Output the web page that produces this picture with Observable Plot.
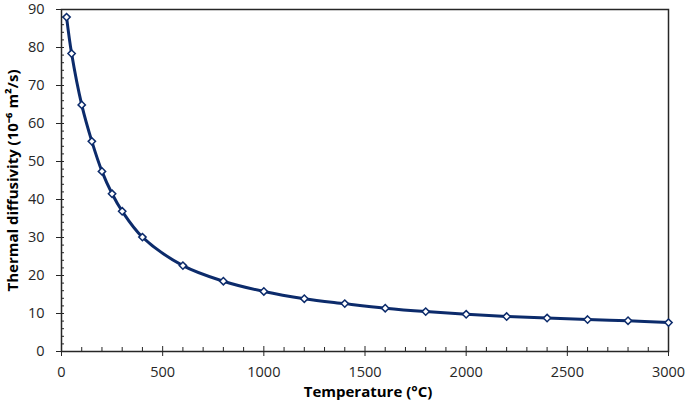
<!DOCTYPE html>
<html>
<head>
<meta charset="utf-8">
<script src="https://cdn.jsdelivr.net/npm/d3@7"></script>
<script src="https://cdn.jsdelivr.net/npm/@observablehq/plot@0.6"></script>
<style>
  html, body { margin: 0; padding: 0; background: white; }
</style>
</head>
<body>
<div id="chart"></div>
<script>
const temperatures = [25, 50, 100, 150, 200, 250, 300, 400, 600, 800, 1000, 1200, 1400, 1600, 1800, 2000, 2200, 2400, 2600, 2800, 3000];
const diffusivity = [88.0, 78.4, 64.9, 55.3, 47.4, 41.5, 36.9, 30.1, 22.6, 18.5, 15.8, 13.9, 12.6, 11.4, 10.5, 9.8, 9.2, 8.8, 8.4, 8.1, 7.6];
const xMajor = [0, 500, 1000, 1500, 2000, 2500, 3000];
const xMinor = d3.range(0, 3001, 100).filter(d => d % 500 !== 0);
const yMajor = [0, 10, 20, 30, 40, 50, 60, 70, 80, 90];
const yMinor = d3.range(0, 91, 2).filter(d => d % 10 !== 0);
const xTitle = "Temperature (°C)";
const yTitle = "Thermal diffusivity (10⁻⁶ m²/s)";

const data = temperatures.map((t, i) => ({t, a: diffusivity[i]}));
const navy = "#0c2b6b";
const axisColor = "#262626";

const chart = Plot.plot({
  width: 685,
  height: 405,
  marginLeft: 61,
  marginRight: 17,
  marginTop: 9,
  marginBottom: 54,
  style: {fontFamily: "'Open Sans', sans-serif", fontSize: "14.5px", color: "#262626", background: "white", overflow: "visible"},
  x: {domain: [0, 3000]},
  y: {domain: [0, 90]},
  marks: [
    Plot.frame({stroke: axisColor, strokeWidth: 1.5}),
    Plot.axisX({ticks: xMinor, tickSize: 4, dy: -4, text: null, label: null, stroke: axisColor}),
    Plot.axisX({ticks: xMajor, tickSize: 10, dy: -5, text: null, label: null, stroke: axisColor}),
    Plot.axisX({ticks: xMajor, tickSize: 0, tickPadding: 15, tickFormat: d => String(d), label: null, fill: "#262626"}),
    Plot.axisY({ticks: yMinor, tickSize: 3, dx: 3, text: null, label: null, stroke: axisColor}),
    Plot.axisY({ticks: yMajor, tickSize: 8, dx: 3, text: null, label: null, stroke: axisColor}),
    Plot.axisY({ticks: yMajor, tickSize: 0, tickPadding: 17, tickFormat: d => String(d), label: null, fill: "#262626"}),
    Plot.line(data, {x: "t", y: "a", curve: "catmull-rom", stroke: navy, strokeWidth: 3}),
    Plot.dot(data, {x: "t", y: "a", symbol: "diamond2", r: 3.3, fill: "white", stroke: navy, strokeWidth: 1.5}),
    Plot.text([xTitle], {text: d => d, frameAnchor: "bottom", dy: 45, dx: 3, fontWeight: "bold", fontSize: 15, fill: "#000"}),
    Plot.text([yTitle], {text: d => d, frameAnchor: "left", textAnchor: "middle", lineAnchor: "middle", rotate: -90, dx: -48, fontWeight: "bold", fontSize: 15, fill: "#000"})
  ]
});
document.getElementById("chart").appendChild(chart);
</script>
</body>
</html>
